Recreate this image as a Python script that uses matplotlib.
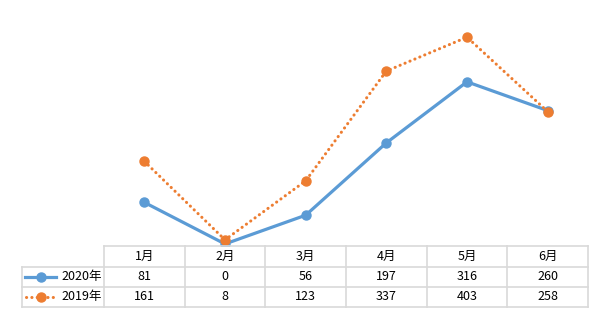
import matplotlib
matplotlib.use("Agg")
import matplotlib.pyplot as plt
from matplotlib.lines import Line2D

plt.rcParams['font.family'] = ['Noto Sans CJK SC', 'DejaVu Sans']

months = ["1月", "2月", "3月", "4月", "5月", "6月"]
series_names = ["2020年", "2019年"]
values_2020 = [81, 0, 56, 197, 316, 260]
values_2019 = [161, 8, 123, 337, 403, 258]

BLUE = "#5B9BD5"
ORANGE = "#ED7D31"
GRID = "#D9D9D9"
DOT = (0, (0.05, 1.7))
DOT_LW = 2.2

W, H = 598, 319
fig = plt.figure(figsize=(W / 100, H / 100), dpi=100)

# plot area in pixel coordinates
left, right, top, bottom = 104, 588, 10, 246
ax = fig.add_axes([left / W, 1 - bottom / H, (right - left) / W, (bottom - top) / H])
x = list(range(len(months)))
ax.plot(x, values_2020, color=BLUE, lw=2.3, marker="o", ms=6.5, solid_capstyle="round", zorder=3)
ax.plot(x, values_2019, color=ORANGE, lw=DOT_LW, ls=DOT, dash_capstyle="round",
        marker="o", ms=6.5, zorder=4)
ax.set_xlim(-0.5, len(months) - 0.5)
ax.set_ylim(-4, 456)
ax.axis("off")

# overlay for table
ov = fig.add_axes([0, 0, 1, 1])
ov.set_xlim(0, W)
ov.set_ylim(H, 0)
ov.axis("off")

col_w = (right - left) / len(months)
rows_y = [246, 266.7, 286.7, 306.7]
leg_left = 21.7

def hline(x0, x1, y):
    ov.add_line(Line2D([x0, x1], [y, y], color=GRID, lw=1.2))

def vline(xx, y0, y1):
    ov.add_line(Line2D([xx, xx], [y0, y1], color=GRID, lw=1.2))

hline(left, right, rows_y[0])
for y in rows_y[1:]:
    hline(leg_left, right, y)
vline(leg_left, rows_y[1], rows_y[3])
for i in range(len(months) + 1):
    vline(left + i * col_w, rows_y[0], rows_y[3])

fs = 9
for i, m in enumerate(months):
    cx = left + (i + 0.5) * col_w
    ov.text(cx, (rows_y[0] + rows_y[1]) / 2, m, ha="center", va="center", fontsize=fs, color="#000000")
    ov.text(cx, (rows_y[1] + rows_y[2]) / 2, str(values_2020[i]), ha="center", va="center", fontsize=fs)
    ov.text(cx, (rows_y[2] + rows_y[3]) / 2, str(values_2019[i]), ha="center", va="center", fontsize=fs)

# legend keys
ry1 = (rows_y[1] + rows_y[2]) / 2
ry2 = (rows_y[2] + rows_y[3]) / 2
ov.add_line(Line2D([25, 56], [ry1, ry1], color=BLUE, lw=2.3))
ov.plot([40.5], [ry1], marker="o", color=BLUE, ms=6.5)
ov.add_line(Line2D([26, 56], [ry2, ry2], color=ORANGE, lw=DOT_LW, ls=DOT, dash_capstyle="round"))
ov.plot([40.5], [ry2], marker="o", color=ORANGE, ms=6.5)
ov.text(61, ry1, series_names[0], ha="left", va="center", fontsize=fs)
ov.text(61, ry2, series_names[1], ha="left", va="center", fontsize=fs)

fig.savefig("out.png", dpi=100, facecolor="white")
